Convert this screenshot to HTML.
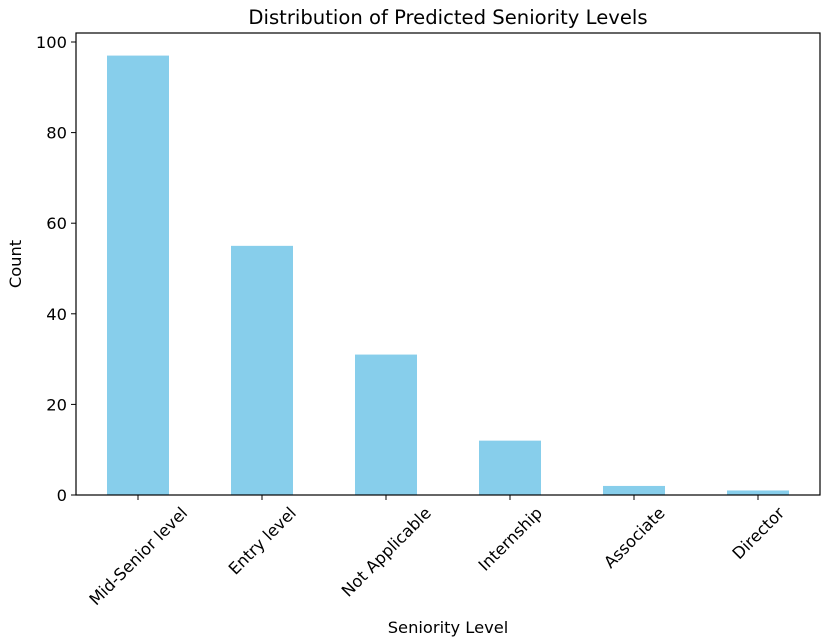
<!DOCTYPE html>
<html><head><meta charset="utf-8"><style>
html,body{margin:0;padding:0;background:#fff;overflow:hidden;}
svg{display:block;font-family:"DejaVu Sans","Liberation Sans",sans-serif;}
</style></head><body>
<svg width="826" height="640" viewBox="0 0 826 640" xmlns="http://www.w3.org/2000/svg">
<g id="bars"></g>
<g id="axes"></g>
</svg>
<script>
const categories = ["Mid-Senior level","Entry level","Not Applicable","Internship","Associate","Director"];
const counts = [97, 55, 31, 12, 2, 1];
const yTicks = [0, 20, 40, 60, 80, 100];
const L=76,R=820,T=33,B=495;
const FS=16.3;
const ns="http://www.w3.org/2000/svg";
const svg=document.querySelector('svg');
const step=(R-L)/categories.length;
const xc=i=>L+step*(i+0.5);
const y=v=>B-v*(B-42)/100;
function mk(t,a,p){const e=document.createElementNS(ns,t);for(const k in a)e.setAttribute(k,a[k]);(p||svg).appendChild(e);return e;}
const bars=document.getElementById('bars'),axes=document.getElementById('axes');
counts.forEach((v,i)=>{
  const r=mk('rect',{x:xc(i)-step/4,y:y(v),width:step/2,height:B-y(v),fill:'#87ceeb'},bars);
  
  
});
const frame=mk('rect',{x:L,y:T,width:R-L,height:B-T,fill:'none',stroke:'#000','stroke-width':1.2},axes);


yTicks.forEach(v=>{
  mk('line',{x1:L-5,x2:L,y1:y(v),y2:y(v),stroke:'#000'},axes);
  const t=mk('text',{x:L-9,y:y(v)+6,'text-anchor':'end','font-size':FS,fill:'#000'},axes);
  t.textContent=v;
  
  
});
categories.forEach((c,i)=>{
  const x=xc(i);
  mk('line',{x1:x,x2:x,y1:B,y2:B+5,stroke:'#000'},axes);
  const t=mk('text',{x:0,y:0,'text-anchor':'middle','font-size':FS,fill:'#000'},axes);
  t.textContent=c;
  
  
  const w=t.getComputedTextLength();
  const cy=B+9+(w+FS)*0.7071/2;
  t.setAttribute('transform',`translate(${x} ${cy}) rotate(-45)`);
  t.setAttribute('y',6);
});
const title=mk('text',{x:(L+R)/2,y:24,'text-anchor':'middle','font-size':19.6,fill:'#000'});
title.textContent='Distribution of Predicted Seniority Levels';


const xl=mk('text',{x:(L+R)/2,y:633,'text-anchor':'middle','font-size':FS,fill:'#000'});
xl.textContent='Seniority Level';


const yl=mk('text',{x:21,y:(T+B)/2,'text-anchor':'middle','font-size':FS,fill:'#000',transform:`rotate(-90 21 ${(T+B)/2})`});
yl.textContent='Count';


</script>
</body></html>
